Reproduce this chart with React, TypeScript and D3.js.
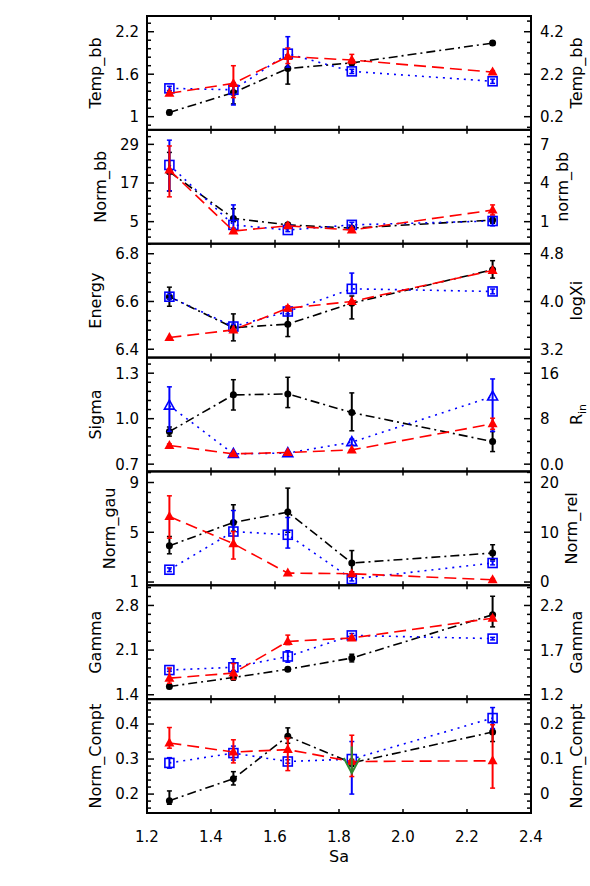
import React from 'react';
import * as d3 from 'd3';

const W = 590;
const H = 886;

const sa = [1.27, 1.47, 1.64, 1.84, 2.28];
const xTicks = [1.2, 1.4, 1.6, 1.8, 2.0, 2.2, 2.4];
const xTickLabels = ['1.2', '1.4', '1.6', '1.8', '2.0', '2.2', '2.4'];
const xTitle = 'Sa';

const leftTitles = ['Temp_bb', 'Norm_bb', 'Energy', 'Sigma', 'Norm_gau', 'Gamma', 'Norm_Compt'];
const rightTitles = ['Temp_bb', 'norm_bb', 'logXi', 'R|in', 'Norm_rel', 'Gamma', 'Norm_Compt'];

const leftDomains = [
  [0.814, 2.422], [-1.85, 33.5], [6.365, 6.842], [0.652, 1.403], [0.74, 9.89], [1.331, 3.116], [0.146, 0.471],
];
const leftTicks = [
  [1, 1.6, 2.2], [5, 17, 29], [6.4, 6.6, 6.8], [0.7, 1.0, 1.3], [1, 5, 9], [1.4, 2.1, 2.8], [0.2, 0.3, 0.4],
];
const leftTickLabels = [
  ['1', '1.6', '2.2'], ['5', '17', '29'], ['6.4', '6.6', '6.8'], ['0.7', '1.0', '1.3'], ['1', '5', '9'], ['1.4', '2.1', '2.8'], ['0.2', '0.3', '0.4'],
];
const leftMinorStep = [0.12, 2.4, 0.04, 0.06, 0.8, 0.14, 0.02];

const rightDomains = [
  [-0.42, 4.94], [-0.71, 8.125], [3.06, 4.968], [-1.28, 18.75], [-0.65, 22.2], [1.151, 2.426], [-0.054, 0.271],
];
const rightTicks = [
  [0.2, 2.2, 4.2], [1, 4, 7], [3.2, 4.0, 4.8], [0, 8, 16], [0, 10, 20], [1.2, 1.7, 2.2], [0, 0.1, 0.2],
];
const rightTickLabels = [
  ['0.2', '2.2', '4.2'], ['1', '4', '7'], ['3.2', '4.0', '4.8'], ['0.0', '8', '16'], ['0', '10', '20'], ['1.2', '1.7', '2.2'], ['0', '0.1', '0.2'],
];
const rightMinorStep = [0.5, 0.6, 0.2, 2, 2, 0.1, 0.02];

// black: filled circles, dash-dot
const blackValues = [
  [1.06, 1.34, 1.68, 1.76, 2.04],
  [20.5, 6.0, 4.0, 3.0, 5.5],
  [6.62, 6.49, 6.505, 6.593, 6.733],
  [0.915, 1.157, 1.163, 1.04, 0.849],
  [3.92, 5.79, 6.62, 2.53, 3.33],
  [1.53, 1.67, 1.80, 1.975, 2.654],
  [0.181, 0.244, 0.365, 0.289, 0.377],
];
const blackErrLo = [
  [0.03, 0.16, 0.22, 0.04, 0.03],
  [6, 1, 0.5, 0.5, 1],
  [0.04, 0.055, 0.052, 0.066, 0.035],
  [0.03, 0.1, 0.09, 0.12, 0.066],
  [0.65, 0.7, 1.62, 0.7, 0.54],
  [0.03, 0.04, 0.03, 0.06, 0.19],
  [0.01, 0.018, 0.02, 0.01, 0.027],
];
const blackErrHi = [
  [0.03, 0.1, 0.17, 0.04, 0.03],
  [6, 3, 0.5, 0.5, 1],
  [0.04, 0.058, 0.055, 0.03, 0.038],
  [0.03, 0.1, 0.11, 0.13, 0.066],
  [0.74, 1.42, 1.93, 1.0, 0.67],
  [0.03, 0.04, 0.03, 0.06, 0.29],
  [0.028, 0.02, 0.024, 0.01, 0.03],
];

// red: filled triangles, dashed
const redValues = [
  [1.33, 1.47, 1.85, 1.80, 1.63],
  [21.0, 2.1, 3.7, 2.4, 8.6],
  [6.449, 6.481, 6.572, 6.6, 6.73],
  [0.823, 0.768, 0.777, 0.794, 0.966],
  [6.27, 4.08, 1.72, 1.67, 1.18],
  [1.66, 1.74, 2.235, 2.29, 2.6],
  [0.346, 0.32, 0.327, 0.293, 0.295],
];
const redErrLo = [
  [0.02, 0.2, 0.1, 0.05, 0.02],
  [8.3, 0.5, 0.5, 0.5, 1.5],
  [0, 0, 0.01, 0, 0],
  [0.01, 0, 0, 0, 0.036],
  [1.74, 1.23, 0.1, 0.1, 0.1],
  [0.08, 0.1, 0.05, 0.03, 0.03],
  [0.015, 0.031, 0.06, 0.043, 0.078],
];
const redErrHi = [
  [0.02, 0.25, 0.12, 0.08, 0.02],
  [7.5, 0.5, 0.7, 0.5, 1.6],
  [0, 0, 0.01, 0, 0],
  [0.01, 0, 0, 0, 0.037],
  [1.66, 0.98, 0.1, 0.1, 0.1],
  [0.16, 0.15, 0.1, 0.03, 0.03],
  [0.044, 0.035, 0.033, 0.075, 0.103],
];

// blue: open squares (open triangles in Sigma panel), dotted
const blueValues = [
  [1.40, 1.38, 1.89, 1.64, 1.50],
  [22.6, 4.0, 2.4, 4.0, 5.2],
  [6.62, 6.495, 6.558, 6.653, 6.642],
  [1.086, 0.768, 0.773, 0.845, 1.146],
  [1.99, 5.06, 4.80, 1.24, 2.53],
  [1.787, 1.83, 2.0, 2.33, 2.28],
  [0.289, 0.317, 0.293, 0.30, 0.417],
];
const blueErrLo = [
  [0.03, 0.215, 0.19, 0.03, 0.03],
  [8, 1, 0.5, 0.5, 1.5],
  [0.01, 0.01, 0.01, 0.02, 0.01],
  [0.17, 0, 0, 0.02, 0.23],
  [0.15, 1.0, 1.07, 0.15, 0.15],
  [0.02, 0.05, 0.09, 0.03, 0.02],
  [0.015, 0.02, 0.005, 0.1, 0.03],
];
const blueErrHi = [
  [0.03, 0.1, 0.24, 0.03, 0.03],
  [7.7, 6.2, 0.5, 0.8, 1.5],
  [0.01, 0.01, 0.01, 0.066, 0.01],
  [0.124, 0, 0, 0.02, 0.116],
  [0.15, 1.69, 1.39, 0.15, 0.15],
  [0.02, 0.134, 0.09, 0.03, 0.02],
  [0.015, 0.02, 0.005, 0.05, 0.03],
];
const blueTrianglePanel = 3;

// green upper limit (Norm_Compt panel)
const greenPanel = 6;
const greenX = 1.84;
const greenFrom = 0.336;
const greenTo = 0.26;

const FONT = 'DejaVu Sans';
const FS = 15;
const TFS = 16;

function labelWidth(s: string) {
  let w = 0;
  for (const c of s) w += c === '.' ? 0.318 * FS : 0.636 * FS;
  return w;
}

function minorTicks(domain: number[], majors: number[], step: number) {
  const lo = Math.min(domain[0], domain[1]);
  const hi = Math.max(domain[0], domain[1]);
  const m0 = majors[0];
  const k0 = Math.ceil((lo - m0) / step - 1e-9);
  const k1 = Math.floor((hi - m0) / step + 1e-9);
  const out: number[] = [];
  for (let k = k0; k <= k1; k++) {
    const v = m0 + k * step;
    if (majors.some((m) => Math.abs(m - v) < step * 0.01)) continue;
    out.push(v);
  }
  return out;
}

const X0 = 147;
const X1 = 531;
const TOP = 16;
const BOTTOM = 813;

export default function App() {
  const x = d3.scaleLinear().domain([1.2, 2.4]).range([X0, X1]);
  const n = leftTitles.length;
  const ph = (BOTTOM - TOP) / n;

  const panels = leftTitles.map((lt, i) => {
    const pTop = TOP + i * ph;
    const pBot = pTop + ph;
    const y = d3.scaleLinear().domain(leftDomains[i]).range([pBot, pTop]);
    const yr = d3.scaleLinear().domain(rightDomains[i]).range([pBot, pTop]);
    const yc = (pTop + pBot) / 2;

    const lMaxW = Math.max(...leftTickLabels[i].map(labelWidth));
    const rMaxW = Math.max(...rightTickLabels[i].map(labelWidth));
    const lTitleX = X0 - 8 - lMaxW - 14;
    const rTitleX = X1 + 9 + rMaxW + 18;

    const line = d3
      .line<number>()
      .x((_, j) => x(sa[j]))
      .y((v) => y(v));

    const series = [
      { vals: blackValues[i], lo: blackErrLo[i], hi: blackErrHi[i], color: '#000000', dash: '9,4,2,4', marker: 'circle' },
      { vals: blueValues[i], lo: blueErrLo[i], hi: blueErrHi[i], color: '#0000ff', dash: '2,5', marker: i === blueTrianglePanel ? 'otri' : 'square' },
      { vals: redValues[i], lo: redErrLo[i], hi: redErrHi[i], color: '#ff0000', dash: '12,6', marker: 'tri' },
    ];

    const rt = rightTitles[i].split('|');

    return (
      <g key={i}>
        {xTicks.map((t, k) => (
          <g key={'xt' + k}>
            <line x1={x(t)} x2={x(t)} y1={pBot} y2={pBot - 4} stroke="#000" strokeWidth={1.5} />
            <line x1={x(t)} x2={x(t)} y1={pTop} y2={pTop + 4} stroke="#000" strokeWidth={1.5} />
          </g>
        ))}
        {leftTicks[i].map((t, k) => (
          <g key={'lt' + k}>
            <line x1={X0} x2={X0 + 7} y1={y(t)} y2={y(t)} stroke="#000" strokeWidth={1.5} />
            <text x={X0 - 8} y={y(t)} dy="0.36em" textAnchor="end" fontFamily={FONT} fontSize={FS}>
              {leftTickLabels[i][k]}
            </text>
          </g>
        ))}
        {minorTicks(leftDomains[i], leftTicks[i], leftMinorStep[i]).map((t, k) => (
          <line key={'lm' + k} x1={X0} x2={X0 + 4} y1={y(t)} y2={y(t)} stroke="#000" strokeWidth={1.5} />
        ))}
        {rightTicks[i].map((t, k) => (
          <g key={'rt' + k}>
            <line x1={X1} x2={X1 - 7} y1={yr(t)} y2={yr(t)} stroke="#000" strokeWidth={1.5} />
            <text x={X1 + 9} y={yr(t)} dy="0.36em" textAnchor="start" fontFamily={FONT} fontSize={FS}>
              {rightTickLabels[i][k]}
            </text>
          </g>
        ))}
        {minorTicks(rightDomains[i], rightTicks[i], rightMinorStep[i]).map((t, k) => (
          <line key={'rm' + k} x1={X1} x2={X1 - 4} y1={yr(t)} y2={yr(t)} stroke="#000" strokeWidth={1.5} />
        ))}
        <text transform={`translate(${lTitleX},${yc}) rotate(-90)`} textAnchor="middle" fontFamily={FONT} fontSize={TFS}>
          {lt}
        </text>
        <text transform={`translate(${rTitleX},${yc}) rotate(-90)`} textAnchor="middle" fontFamily={FONT} fontSize={TFS}>
          {rt[0]}
          {rt.length > 1 ? (
            <tspan fontSize={11} dy={4}>
              {rt[1]}
            </tspan>
          ) : null}
        </text>

        {series.map((s, si) => (
          <g key={'s' + si}>
            <path d={line(s.vals) || ''} fill="none" stroke={s.color} strokeWidth={1.6} strokeDasharray={s.dash} />
            {s.vals.map((v, j) =>
              s.lo[j] > 0 || s.hi[j] > 0 ? (
                <g key={'e' + j}>
                  <line x1={x(sa[j])} x2={x(sa[j])} y1={y(v - s.lo[j])} y2={y(v + s.hi[j])} stroke={s.color} strokeWidth={2} />
                  <line x1={x(sa[j]) - 2.5} x2={x(sa[j]) + 2.5} y1={y(v - s.lo[j])} y2={y(v - s.lo[j])} stroke={s.color} strokeWidth={1.5} />
                  <line x1={x(sa[j]) - 2.5} x2={x(sa[j]) + 2.5} y1={y(v + s.hi[j])} y2={y(v + s.hi[j])} stroke={s.color} strokeWidth={1.5} />
                </g>
              ) : null
            )}
            {s.vals.map((v, j) => {
              const cx = x(sa[j]);
              const cy = y(v);
              if (s.marker === 'circle') return <circle key={'m' + j} cx={cx} cy={cy} r={3.5} fill={s.color} />;
              if (s.marker === 'square')
                return <rect key={'m' + j} x={cx - 4.5} y={cy - 4.5} width={9} height={9} fill="none" stroke={s.color} strokeWidth={1.6} />;
              const pts = `${cx},${cy - 5.5} ${cx + 5},${cy + 3.5} ${cx - 5},${cy + 3.5}`;
              if (s.marker === 'otri') return <polygon key={'m' + j} points={pts} fill="none" stroke={s.color} strokeWidth={1.6} />;
              return <polygon key={'m' + j} points={pts} fill={s.color} />;
            })}
          </g>
        ))}

        {i === greenPanel ? (
          <g stroke="#2e8b2e" strokeWidth={2} fill="none">
            <line x1={x(greenX)} x2={x(greenX)} y1={y(greenFrom)} y2={y(greenTo)} />
            <polyline points={`${x(greenX) - 8},${y(greenTo) - 15} ${x(greenX)},${y(greenTo)} ${x(greenX) + 8},${y(greenTo) - 15}`} />
          </g>
        ) : null}

        <rect x={X0} y={pTop} width={X1 - X0} height={ph} fill="none" stroke="#000" strokeWidth={2} />
      </g>
    );
  });

  return (
    <svg width={W} height={H} style={{ position: 'absolute', left: 0, top: 0, background: '#fff' }}>
      <rect x={0} y={0} width={W} height={H} fill="#fff" />
      {panels}
      {xTicks.map((t, k) => (
        <text key={'xl' + k} x={x(t)} y={842} textAnchor="middle" fontFamily={FONT} fontSize={FS}>
          {xTickLabels[k]}
        </text>
      ))}
      <text x={(X0 + X1) / 2} y={862} textAnchor="middle" fontFamily={FONT} fontSize={TFS}>
        {xTitle}
      </text>
    </svg>
  );
}
